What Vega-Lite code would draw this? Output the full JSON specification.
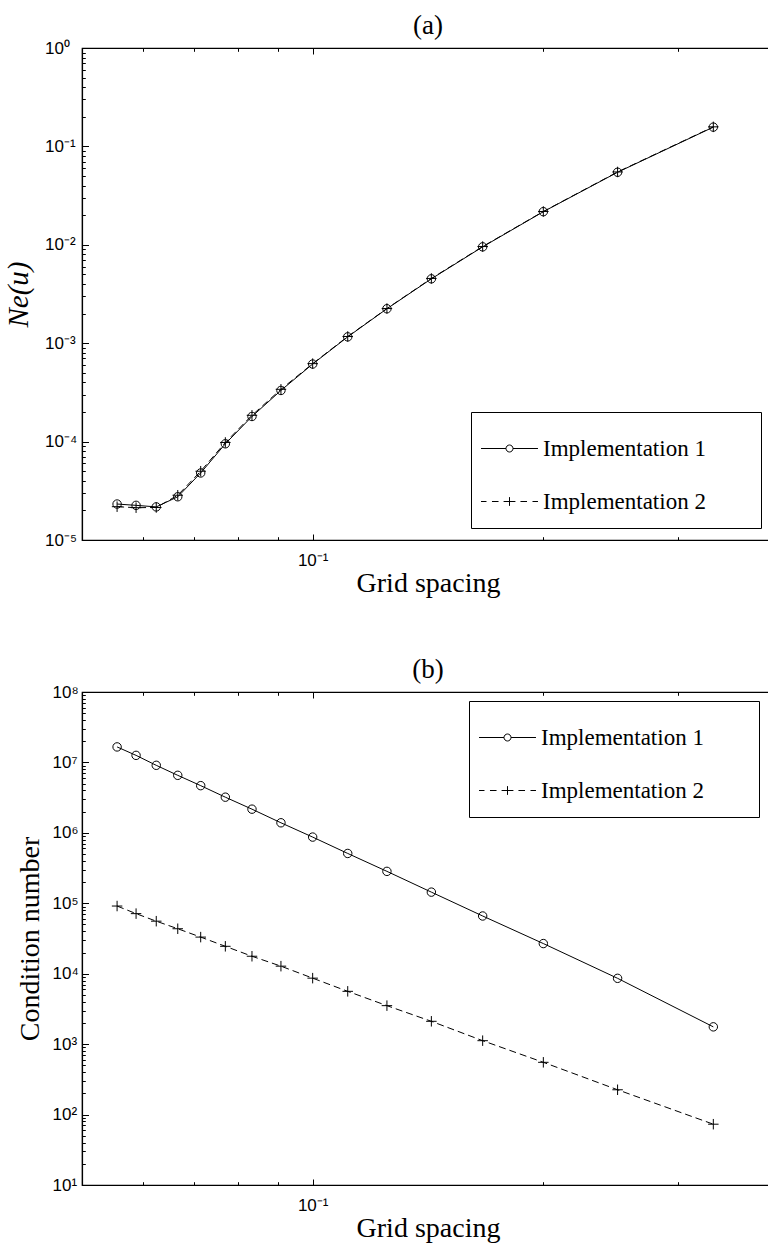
{
  "$schema": "https://vega.github.io/schema/vega-lite/v6.json",
  "padding": {"left": 4, "top": 11, "right": 0, "bottom": 0},
  "spacing": 57,
  "background": "white",
  "config": {
    "view": {"stroke": "black", "strokeWidth": 1.2},
    "axis": {"grid": false, "labelFlush": false, "labelOverlap": false, "tickColor": "black", "tickWidth": 1, "domainColor": "black", "domainWidth": 1.2, "labelColor": "black", "titleColor": "black", "minExtent": 0},
    "legend": {"labelFont": "Liberation Serif", "labelLimit": 0}
  },
  "datasets": {
    "a": [
      {"h": 0.05556, "v": 2.32e-5, "s": "Implementation 1"},
      {"h": 0.05882, "v": 2.25e-5, "s": "Implementation 1"},
      {"h": 0.0625, "v": 2.17e-5, "s": "Implementation 1"},
      {"h": 0.06667, "v": 2.75e-5, "s": "Implementation 1"},
      {"h": 0.07143, "v": 4.8e-5, "s": "Implementation 1"},
      {"h": 0.07692, "v": 9.5e-5, "s": "Implementation 1"},
      {"h": 0.08333, "v": 1.8e-4, "s": "Implementation 1"},
      {"h": 0.09091, "v": 3.31e-4, "s": "Implementation 1"},
      {"h": 0.1, "v": 6.14e-4, "s": "Implementation 1"},
      {"h": 0.11111, "v": 1.16e-3, "s": "Implementation 1"},
      {"h": 0.125, "v": 2.24e-3, "s": "Implementation 1"},
      {"h": 0.14286, "v": 4.51e-3, "s": "Implementation 1"},
      {"h": 0.16667, "v": 9.53e-3, "s": "Implementation 1"},
      {"h": 0.2, "v": 2.17e-2, "s": "Implementation 1"},
      {"h": 0.25, "v": 5.46e-2, "s": "Implementation 1"},
      {"h": 0.33333, "v": 0.157, "s": "Implementation 1"},
      {"h": 0.05556, "v": 2.18e-5, "s": "Implementation 2"},
      {"h": 0.05882, "v": 2.13e-5, "s": "Implementation 2"},
      {"h": 0.0625, "v": 2.14e-5, "s": "Implementation 2"},
      {"h": 0.06667, "v": 2.85e-5, "s": "Implementation 2"},
      {"h": 0.07143, "v": 5.0e-5, "s": "Implementation 2"},
      {"h": 0.07692, "v": 9.8e-5, "s": "Implementation 2"},
      {"h": 0.08333, "v": 1.85e-4, "s": "Implementation 2"},
      {"h": 0.09091, "v": 3.4e-4, "s": "Implementation 2"},
      {"h": 0.1, "v": 6.2e-4, "s": "Implementation 2"},
      {"h": 0.11111, "v": 1.17e-3, "s": "Implementation 2"},
      {"h": 0.125, "v": 2.25e-3, "s": "Implementation 2"},
      {"h": 0.14286, "v": 4.55e-3, "s": "Implementation 2"},
      {"h": 0.16667, "v": 9.6e-3, "s": "Implementation 2"},
      {"h": 0.2, "v": 2.18e-2, "s": "Implementation 2"},
      {"h": 0.25, "v": 5.5e-2, "s": "Implementation 2"},
      {"h": 0.33333, "v": 0.158, "s": "Implementation 2"}
    ],
    "b": [
      {"h": 0.05556, "v": 1.66e7, "s": "Implementation 1"},
      {"h": 0.05882, "v": 1.26e7, "s": "Implementation 1"},
      {"h": 0.0625, "v": 9.1e6, "s": "Implementation 1"},
      {"h": 0.06667, "v": 6.56e6, "s": "Implementation 1"},
      {"h": 0.07143, "v": 4.68e6, "s": "Implementation 1"},
      {"h": 0.07692, "v": 3.21e6, "s": "Implementation 1"},
      {"h": 0.08333, "v": 2.17e6, "s": "Implementation 1"},
      {"h": 0.09091, "v": 1.39e6, "s": "Implementation 1"},
      {"h": 0.1, "v": 8.71e5, "s": "Implementation 1"},
      {"h": 0.11111, "v": 5.1e5, "s": "Implementation 1"},
      {"h": 0.125, "v": 2.84e5, "s": "Implementation 1"},
      {"h": 0.14286, "v": 1.44e5, "s": "Implementation 1"},
      {"h": 0.16667, "v": 6.6e4, "s": "Implementation 1"},
      {"h": 0.2, "v": 2.68e4, "s": "Implementation 1"},
      {"h": 0.25, "v": 8.6e3, "s": "Implementation 1"},
      {"h": 0.33333, "v": 1.76e3, "s": "Implementation 1"},
      {"h": 0.05556, "v": 9.14e4, "s": "Implementation 2"},
      {"h": 0.05882, "v": 7.13e4, "s": "Implementation 2"},
      {"h": 0.0625, "v": 5.57e4, "s": "Implementation 2"},
      {"h": 0.06667, "v": 4.35e4, "s": "Implementation 2"},
      {"h": 0.07143, "v": 3.31e4, "s": "Implementation 2"},
      {"h": 0.07692, "v": 2.45e4, "s": "Implementation 2"},
      {"h": 0.08333, "v": 1.77e4, "s": "Implementation 2"},
      {"h": 0.09091, "v": 1.28e4, "s": "Implementation 2"},
      {"h": 0.1, "v": 8.65e3, "s": "Implementation 2"},
      {"h": 0.11111, "v": 5.62e3, "s": "Implementation 2"},
      {"h": 0.125, "v": 3.52e3, "s": "Implementation 2"},
      {"h": 0.14286, "v": 2.11e3, "s": "Implementation 2"},
      {"h": 0.16667, "v": 1.12e3, "s": "Implementation 2"},
      {"h": 0.2, "v": 552, "s": "Implementation 2"},
      {"h": 0.25, "v": 225, "s": "Implementation 2"},
      {"h": 0.33333, "v": 73, "s": "Implementation 2"}
    ]
  },
  "resolve": {"scale": {"shape": "independent"}, "legend": {"shape": "independent"}},
  "vconcat": [
    {
      "width": 692,
      "height": 492,
      "data": {"name": "a"},
      "title": {"text": "(a)", "font": "Liberation Serif", "fontSize": 27, "fontWeight": "normal", "color": "black", "offset": -22, "baseline": "alphabetic", "anchor": "middle", "frame": "group"},
      "resolve": {"axis": {"x": "independent", "y": "independent"}},
      "layer": [
        {
          "transform": [{"filter": "datum.s == 'Implementation 1'"}],
          "mark": {"type": "line", "color": "black", "strokeWidth": 1},
          "encoding": {
            "x": {"field": "h", "type": "quantitative", "scale": {"type": "log", "domain": [0.05, 0.4], "nice": false},
              "axis": {"orient": "bottom", "values": [0.1], "tickSize": -6, "labelPadding": 18, "labelFont": "Liberation Sans", "labelFontSize": 17,
                "labelExpr": "'10' + replace(replace(replace(replace(replace(replace(replace(replace(replace(replace(replace('' + round(log(datum.value)/LN10), '-', '⁻'), '0', '⁰'), '1', '¹'), '2', '²'), '3', '³'), '4', '⁴'), '5', '⁵'), '6', '⁶'), '7', '⁷'), '8', '⁸'), '9', '⁹')",
                "title": "Grid spacing", "titleFont": "Liberation Serif", "titleFontSize": 28, "titleFontWeight": "normal", "titlePadding": 1}},
            "y": {"field": "v", "type": "quantitative", "scale": {"type": "log", "domain": [1e-5, 1], "nice": false},
              "axis": {"orient": "left", "values": [1e-5, 1e-4, 1e-3, 1e-2, 1e-1, 1], "tickSize": -6.5, "labelPadding": 43.9, "labelAlign": "left", "labelBaseline": "middle", "labelFont": "Liberation Sans", "labelFontSize": 17,
                "labelExpr": "'10' + replace(replace(replace(replace(replace(replace(replace(replace(replace(replace(replace('' + round(log(datum.value)/LN10), '-', '⁻'), '0', '⁰'), '1', '¹'), '2', '²'), '3', '³'), '4', '⁴'), '5', '⁵'), '6', '⁶'), '7', '⁷'), '8', '⁸'), '9', '⁹')",
                "title": "Ne(u)", "titleFont": "Liberation Serif", "titleFontStyle": "italic", "titleFontSize": 29, "titleFontWeight": "normal", "titlePadding": 11}}
          }
        },
        {
          "transform": [{"filter": "datum.s == 'Implementation 2'"}],
          "mark": {"type": "line", "color": "black", "strokeWidth": 1, "strokeDash": [7, 4]},
          "encoding": {
            "x": {"field": "h", "type": "quantitative", "scale": {"type": "log", "domain": [0.05, 0.4], "nice": false},
              "axis": {"orient": "bottom", "values": [0.06, 0.07, 0.08, 0.09, 0.2, 0.3], "tickSize": -3.3, "labels": false, "domain": false, "title": null}},
            "y": {"field": "v", "type": "quantitative", "scale": {"type": "log", "domain": [1e-5, 1], "nice": false},
              "axis": {"orient": "left", "values": [2e-5, 3e-5, 4e-5, 5e-5, 6e-5, 7e-5, 8e-5, 9e-5, 2e-4, 3e-4, 4e-4, 5e-4, 6e-4, 7e-4, 8e-4, 9e-4, 2e-3, 3e-3, 4e-3, 5e-3, 6e-3, 7e-3, 8e-3, 9e-3, 0.02, 0.03, 0.04, 0.05, 0.06, 0.07, 0.08, 0.09, 0.2, 0.3, 0.4, 0.5, 0.6, 0.7, 0.8, 0.9], "tickSize": -3.3, "labels": false, "domain": false, "title": null}}
          }
        },
        {
          "transform": [{"filter": "datum.s == 'Implementation 1'"}],
          "mark": {"type": "point", "shape": "circle", "filled": false, "color": "black", "size": 71, "strokeWidth": 1, "opacity": 1},
          "encoding": {
            "x": {"field": "h", "type": "quantitative", "scale": {"type": "log", "domain": [0.05, 0.4], "nice": false},
              "axis": {"orient": "top", "values": [0.1], "tickSize": -6, "labels": false, "domain": false, "title": null, "minExtent": 0, "maxExtent": 0}},
            "y": {"field": "v", "type": "quantitative", "scale": {"type": "log", "domain": [1e-5, 1], "nice": false}, "axis": null}
          }
        },
        {
          "transform": [{"filter": "datum.s == 'Implementation 2'"}],
          "mark": {"type": "point", "shape": "M-1,0L1,0M0,-1L0,1", "filled": false, "color": "black", "size": 110, "strokeWidth": 1, "opacity": 1},
          "encoding": {
            "x": {"field": "h", "type": "quantitative", "scale": {"type": "log", "domain": [0.05, 0.4], "nice": false},
              "axis": {"orient": "top", "values": [0.06, 0.07, 0.08, 0.09, 0.2, 0.3], "tickSize": -3.3, "labels": false, "domain": false, "title": null, "minExtent": 0, "maxExtent": 0}},
            "y": {"field": "v", "type": "quantitative", "scale": {"type": "log", "domain": [1e-5, 1], "nice": false}, "axis": null}
          }
        },
        {
          "transform": [{"filter": "false"}],
          "mark": {"type": "point", "filled": false, "color": "black", "strokeWidth": 1, "opacity": 1},
          "encoding": {
            "x": {"field": "h", "type": "quantitative", "scale": {"type": "log", "domain": [0.05, 0.4], "nice": false}, "axis": null},
            "y": {"field": "v", "type": "quantitative", "scale": {"type": "log", "domain": [1e-5, 1], "nice": false}, "axis": null},
            "shape": {"field": "s", "type": "nominal",
              "scale": {"domain": ["Implementation 1", "Implementation 2"], "range": ["M-1.3,0L-0.16,0M0.16,0L1.3,0M-0.16,0A0.16,0.16,0,1,1,0.16,0A0.16,0.16,0,1,1,-0.16,0", "M-1.3,0L-1.05,0M-0.8,0L-0.5,0M-0.27,0L0.27,0M0,-0.2L0,0.2M0.5,0L0.8,0M1.05,0L1.3,0"]},
              "legend": {"orient": "none", "legendX": 389, "legendY": 364, "title": null, "padding": 14, "rowPadding": 18, "symbolSize": 1920, "symbolOffset": 2, "labelOffset": 11, "labelLimit": 0, "symbolStrokeWidth": 1, "symbolStrokeColor": "black", "symbolFillColor": "transparent", "labelFont": "Liberation Serif", "labelFontSize": 23, "labelColor": "black", "strokeColor": "black", "fillColor": "white",
                "labelExpr": "datum.label + '\u00a0\u00a0\u00a0\u00a0\u00a0\u00a0\u00a0\u200b'"}}
          }
        }
      ]
    },
    {
      "width": 692,
      "height": 493,
      "data": {"name": "b"},
      "title": {"text": "(b)", "font": "Liberation Serif", "fontSize": 27, "fontWeight": "normal", "color": "black", "offset": -22, "baseline": "alphabetic", "anchor": "middle", "frame": "group"},
      "resolve": {"axis": {"x": "independent", "y": "independent"}},
      "layer": [
        {
          "transform": [{"filter": "datum.s == 'Implementation 1'"}],
          "mark": {"type": "line", "color": "black", "strokeWidth": 1},
          "encoding": {
            "x": {"field": "h", "type": "quantitative", "scale": {"type": "log", "domain": [0.05, 0.4], "nice": false},
              "axis": {"orient": "bottom", "values": [0.1], "tickSize": -6, "labelPadding": 18, "labelFont": "Liberation Sans", "labelFontSize": 17,
                "labelExpr": "'10' + replace(replace(replace(replace(replace(replace(replace(replace(replace(replace(replace('' + round(log(datum.value)/LN10), '-', '⁻'), '0', '⁰'), '1', '¹'), '2', '²'), '3', '³'), '4', '⁴'), '5', '⁵'), '6', '⁶'), '7', '⁷'), '8', '⁸'), '9', '⁹')",
                "title": "Grid spacing", "titleFont": "Liberation Serif", "titleFontSize": 28, "titleFontWeight": "normal", "titlePadding": 1}},
            "y": {"field": "v", "type": "quantitative", "scale": {"type": "log", "domain": [10, 1e8], "nice": false},
              "axis": {"orient": "left", "values": [10, 100, 1000, 1e4, 1e5, 1e6, 1e7, 1e8], "tickSize": -6.5, "labelPadding": 36.5, "labelAlign": "left", "labelBaseline": "middle", "labelFont": "Liberation Sans", "labelFontSize": 17,
                "labelExpr": "'10' + replace(replace(replace(replace(replace(replace(replace(replace(replace(replace(replace('' + round(log(datum.value)/LN10), '-', '⁻'), '0', '⁰'), '1', '¹'), '2', '²'), '3', '³'), '4', '⁴'), '5', '⁵'), '6', '⁶'), '7', '⁷'), '8', '⁸'), '9', '⁹')",
                "title": "Condition number", "titleFont": "Liberation Serif", "titleFontSize": 28, "titleFontWeight": "normal", "titlePadding": 8}}
          }
        },
        {
          "transform": [{"filter": "datum.s == 'Implementation 2'"}],
          "mark": {"type": "line", "color": "black", "strokeWidth": 1, "strokeDash": [7, 4]},
          "encoding": {
            "x": {"field": "h", "type": "quantitative", "scale": {"type": "log", "domain": [0.05, 0.4], "nice": false},
              "axis": {"orient": "bottom", "values": [0.06, 0.07, 0.08, 0.09, 0.2, 0.3], "tickSize": -3.3, "labels": false, "domain": false, "title": null}},
            "y": {"field": "v", "type": "quantitative", "scale": {"type": "log", "domain": [10, 1e8], "nice": false},
              "axis": {"orient": "left", "values": [20, 30, 40, 50, 60, 70, 80, 90, 200, 300, 400, 500, 600, 700, 800, 900, 2000, 3000, 4000, 5000, 6000, 7000, 8000, 9000, 2e4, 3e4, 4e4, 5e4, 6e4, 7e4, 8e4, 9e4, 2e5, 3e5, 4e5, 5e5, 6e5, 7e5, 8e5, 9e5, 2e6, 3e6, 4e6, 5e6, 6e6, 7e6, 8e6, 9e6, 2e7, 3e7, 4e7, 5e7, 6e7, 7e7, 8e7, 9e7], "tickSize": -3.3, "labels": false, "domain": false, "title": null}}
          }
        },
        {
          "transform": [{"filter": "datum.s == 'Implementation 1'"}],
          "mark": {"type": "point", "shape": "circle", "filled": false, "color": "black", "size": 71, "strokeWidth": 1, "opacity": 1},
          "encoding": {
            "x": {"field": "h", "type": "quantitative", "scale": {"type": "log", "domain": [0.05, 0.4], "nice": false},
              "axis": {"orient": "top", "values": [0.1], "tickSize": -6, "labels": false, "domain": false, "title": null, "minExtent": 0, "maxExtent": 0}},
            "y": {"field": "v", "type": "quantitative", "scale": {"type": "log", "domain": [10, 1e8], "nice": false}, "axis": null}
          }
        },
        {
          "transform": [{"filter": "datum.s == 'Implementation 2'"}],
          "mark": {"type": "point", "shape": "M-1,0L1,0M0,-1L0,1", "filled": false, "color": "black", "size": 110, "strokeWidth": 1, "opacity": 1},
          "encoding": {
            "x": {"field": "h", "type": "quantitative", "scale": {"type": "log", "domain": [0.05, 0.4], "nice": false},
              "axis": {"orient": "top", "values": [0.06, 0.07, 0.08, 0.09, 0.2, 0.3], "tickSize": -3.3, "labels": false, "domain": false, "title": null, "minExtent": 0, "maxExtent": 0}},
            "y": {"field": "v", "type": "quantitative", "scale": {"type": "log", "domain": [10, 1e8], "nice": false}, "axis": null}
          }
        },
        {
          "transform": [{"filter": "false"}],
          "mark": {"type": "point", "filled": false, "color": "black", "strokeWidth": 1, "opacity": 1},
          "encoding": {
            "x": {"field": "h", "type": "quantitative", "scale": {"type": "log", "domain": [0.05, 0.4], "nice": false}, "axis": null},
            "y": {"field": "v", "type": "quantitative", "scale": {"type": "log", "domain": [10, 1e8], "nice": false}, "axis": null},
            "shape": {"field": "s", "type": "nominal",
              "scale": {"domain": ["Implementation 1", "Implementation 2"], "range": ["M-1.3,0L-0.16,0M0.16,0L1.3,0M-0.16,0A0.16,0.16,0,1,1,0.16,0A0.16,0.16,0,1,1,-0.16,0", "M-1.3,0L-1.05,0M-0.8,0L-0.5,0M-0.27,0L0.27,0M0,-0.2L0,0.2M0.5,0L0.8,0M1.05,0L1.3,0"]},
              "legend": {"orient": "none", "legendX": 387, "legendY": 9, "title": null, "padding": 14, "rowPadding": 18, "symbolSize": 1920, "symbolOffset": 2, "labelOffset": 11, "labelLimit": 0, "symbolStrokeWidth": 1, "symbolStrokeColor": "black", "symbolFillColor": "transparent", "labelFont": "Liberation Serif", "labelFontSize": 23, "labelColor": "black", "strokeColor": "black", "fillColor": "white",
                "labelExpr": "datum.label + '\u00a0\u00a0\u00a0\u00a0\u00a0\u00a0\u00a0\u200b'"}}
          }
        }
      ]
    }
  ]
}
